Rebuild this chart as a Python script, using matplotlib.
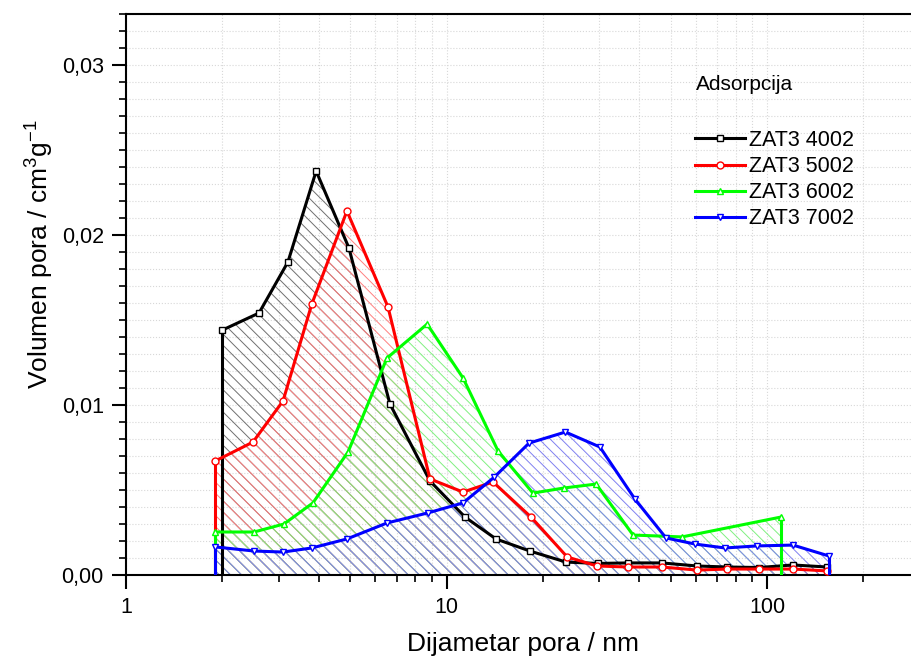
import numpy as np
import matplotlib
matplotlib.use('Agg')
import matplotlib.pyplot as plt
from matplotlib.ticker import MultipleLocator, FuncFormatter, NullFormatter

plt.rcParams['font.family'] = ['Liberation Sans', 'DejaVu Sans']
plt.rcParams['mathtext.default'] = 'regular'
plt.rcParams['hatch.linewidth'] = 0.7

# podaci ocitani sa slike (promjer pora u nm, volumen u cm3/g)
x_4002 = [2.0, 2.6, 3.2, 3.92, 4.96, 6.66, 8.88, 11.42, 14.27, 18.2, 23.6,
          29.7, 36.8, 47.0, 60.5, 75.0, 94.4, 120.5, 153.9]
y_4002 = [0.01441, 0.01541, 0.01841, 0.02376, 0.01924, 0.01006, 0.00553,
          0.00341, 0.00212, 0.00141, 0.00076, 0.00068, 0.00071, 0.00071,
          0.00053, 0.00047, 0.00044, 0.00059, 0.00047]

x_5002 = [1.9, 2.49, 3.09, 3.80, 4.89, 6.57, 8.88, 11.26, 13.97, 18.35, 23.8,
          29.5, 36.8, 47.0, 60.5, 75.0, 94.4, 120.5, 154.0]
y_5002 = [0.00671, 0.00782, 0.01024, 0.01594, 0.02141, 0.01576, 0.00565,
          0.00488, 0.00547, 0.00341, 0.00106, 0.00053, 0.00047, 0.00047,
          0.00029, 0.00035, 0.00035, 0.00035, 0.00024]

x_6002 = [1.9, 2.51, 3.11, 3.83, 4.93, 6.52, 8.7, 11.26, 14.48, 18.6, 23.3,
          29.3, 38.2, 54.3, 110.6]
y_6002 = [0.00253, 0.00253, 0.0030, 0.00424, 0.00724, 0.01276, 0.01476,
          0.01159, 0.0073, 0.00482, 0.00512, 0.00535, 0.00235, 0.00224,
          0.00341]

x_7002 = [1.9, 2.51, 3.09, 3.80, 4.89, 6.52, 8.74, 11.26, 14.1, 18.1, 23.5,
          30.1, 38.7, 48.4, 59.6, 73.9, 93.0, 120.5, 156.0]
y_7002 = [0.00165, 0.00141, 0.00135, 0.00159, 0.00212, 0.00306, 0.00365,
          0.00424, 0.00576, 0.00776, 0.00841, 0.00753, 0.00447, 0.00218,
          0.00182, 0.00159, 0.00171, 0.00176, 0.00112]

labels = ['ZAT3 4002', 'ZAT3 5002', 'ZAT3 6002', 'ZAT3 7002']
xs_all = [x_4002, x_5002, x_6002, x_7002]
ys_all = [y_4002, y_5002, y_6002, y_7002]
colors = ['black', 'red', '#00ff00', 'blue']
hatch_colors = ['#707070', '#ff8080', '#80f080', '#8080f0']
markers = ['s', 'o', '^', 'v']

fig = plt.figure(figsize=(9.11, 6.60), dpi=100)
ax = fig.add_axes([126 / 911, 1 - 575 / 660, 785 / 911, 561 / 660])
ax.set_xscale('log')
ax.set_xlim(1, 10 ** (785 / 320.5))
ax.set_ylim(0, 0.033)

ax.grid(which='both', color='#d8d8d8', linestyle=':', linewidth=0.8)
ax.set_axisbelow(True)

# srafirane povrsine ispod krivulja
for x, y, hc in zip(xs_all, ys_all, hatch_colors):
    ax.fill_between(x, y, 0, facecolor='none', edgecolor=hc,
                    hatch='\\\\\\', linewidth=0, zorder=1)

# krivulje s okomitim linijama na krajevima
for i, (x, y, c, m, lab) in enumerate(zip(xs_all, ys_all, colors, markers, labels)):
    ax.plot([x[0], x[0]], [0, y[0]], color=c, lw=2.2, zorder=2 + i)
    ax.plot([x[-1], x[-1]], [0, y[-1]], color=c, lw=2.2, zorder=2 + i)
    ax.plot(x, y, color=c, lw=2.2, marker=m, markersize=5,
            markerfacecolor='white', markeredgecolor=c, markeredgewidth=1.0,
            label=lab, zorder=2 + i)

ax.yaxis.set_major_locator(MultipleLocator(0.01))
ax.yaxis.set_minor_locator(MultipleLocator(0.001))
ax.yaxis.set_major_formatter(FuncFormatter(lambda v, p: f'{v:.2f}'.replace('.', ',')))
ax.xaxis.set_major_formatter(FuncFormatter(lambda v, p: f'{v:g}'))
ax.xaxis.set_minor_formatter(NullFormatter())

ax.tick_params(which='major', direction='out', length=10, width=1.5,
               labelsize=15.5, top=False, right=False)
ax.tick_params(which='minor', direction='out', length=5, width=1.2,
               top=False, right=False)
ax.tick_params(axis='x', which='major', pad=6)
ax.tick_params(axis='y', which='major', pad=6)

for s in ['left', 'bottom', 'top']:
    ax.spines[s].set_linewidth(1.5)
ax.spines['right'].set_visible(False)

ax.set_xlabel('Dijametar pora / nm', fontsize=19)
ax.set_ylabel('Volumen pora / cm$^{3}$g$^{-1}$', fontsize=19)
ax.xaxis.label.set_va('center')
ax.yaxis.label.set_va('center')
ax.xaxis.set_label_coords((523 - 126) / 785, (575 - 644) / 561)
ax.yaxis.set_label_coords((40 - 126) / 785, (575 - 254) / 561)

fig.text(696 / 911, 1 - 85 / 660, 'Adsorpcija', fontsize=15, va='center')
ax.legend(loc='upper left', bbox_to_anchor=(695 / 911, 1 - 130 / 660),
          bbox_transform=fig.transFigure, frameon=False, fontsize=15.5,
          handlelength=2.3, handletextpad=0.2, labelspacing=0.24,
          borderpad=0, borderaxespad=0, numpoints=1)

fig.savefig('out.png', dpi=100)
